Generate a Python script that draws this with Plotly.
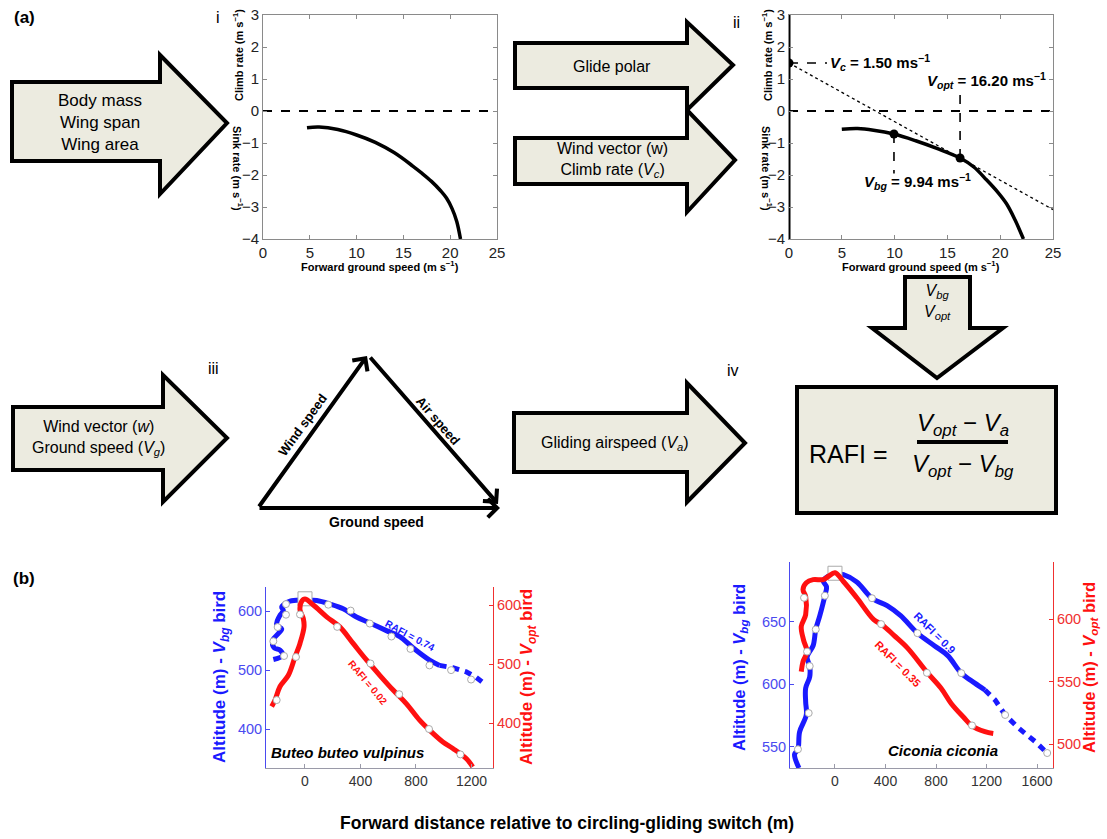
import plotly.graph_objects as go

W, H = 1107, 839
def P(x): return x / W
def Q(y): return 1 - y / H

FONT = "Liberation Sans, Arial, Helvetica, sans-serif"
BLUE = "#1a1aff"
RED = "#ff1010"
BEIGE = "#ecebe0"

# ---------------- panel i : glide polar ----------------
polar_i_speed = [4.7, 6, 8, 10, 12, 14, 16, 17, 18, 19, 19.6, 20.2, 20.7, 21.1]
polar_i_sink = [-0.52, -0.50, -0.58, -0.75, -0.98, -1.30, -1.72, -1.95, -2.2, -2.5, -2.72, -3.05, -3.45, -4.0]

# ---------------- panel ii : shifted polar ----------------
polar_ii_speed = [5.0, 6.5, 8, 9.94, 12, 14, 16.2, 17.5, 18.7, 19.8, 20.6, 21.4, 22.2]
polar_ii_sink = [-0.57, -0.55, -0.6, -0.72, -0.93, -1.17, -1.47, -1.75, -2.15, -2.55, -2.9, -3.4, -4.0]
tangent_x = [0, 25]
tangent_y = [1.5, -3.08]
key_x = [0, 9.94, 16.2]
key_y = [1.5, -0.72, -1.47]

# ---------------- panel b : Buteo buteo vulpinus ----------------
bb_blue_x = [-228, -160, -180, -223, -232, -192, -168, -204, -199, -180, -156, -168, -144, -108, -36, 0,
             84, 180, 275, 371, 467, 587, 683, 778, 898, 970]
bb_blue_y = [518, 525, 534, 538, 551, 562, 570, 576, 584, 593, 601, 607, 613, 617, 619, 619,
             618, 612, 604, 590, 580, 567, 557, 538, 517, 508]
bb_blue_dot_x = [970, 1066, 1162, 1233, 1305]
bb_blue_dot_y = [508, 504, 497, 488, 475]
bb_blue_mk_x = [-151, -228, -197, -137, -137, 168, 329, 467, 623, 760, 897, 1053, 1197]
bb_blue_mk_y = [524, 549, 573, 594, 612, 611, 601, 579, 557, 536, 508, 500, 484]
bb_red_x = [-240, -216, -180, -120, -72, -36, -7, -12, -36, -24, 0,
            60, 156, 251, 347, 443, 539, 635, 730, 826, 898, 994, 1066, 1162, 1209]
bb_red_y = [428, 439, 462, 481, 512, 535, 563, 577, 592, 606, 610,
            600, 580, 563, 535, 507, 481, 456, 433, 405, 388, 368, 357, 340, 326]
bb_red_mk_x = [-204, -65, -36, 232, 472, 679, 894, 1120]
bb_red_mk_y = [439, 512, 584, 563, 501, 449, 390, 347]

# ---------------- panel b : Ciconia ciconia ----------------
cc_blue_x = [-285, -320, -293, -280, -227, -232, -232, -200, -200, -221, -173, -152, -120, -80, -67, -93, -53, 0,
             67, 173, 293, 413, 520, 653, 787, 893, 1000, 1107, 1187]
cc_blue_y = [533, 544, 548, 562, 575.5, 586, 597, 606, 614.6, 622, 631, 644, 655, 671, 678, 683, 686.7, 688.6,
             687.8, 682, 669, 663, 655, 641, 631, 623, 609, 601, 595.5]
cc_blue_dot_x = [1187, 1267, 1347, 1453, 1587, 1680]
cc_blue_dot_y = [595.5, 587.5, 575.5, 565, 554, 545]
cc_blue_mk_x = [-293, -208, -200, -152, -80, 293, 653, 1000, 1347, 1680]
cc_blue_mk_y = [548, 577, 614.6, 644, 671, 669, 641, 609, 575.5, 545]
cc_red_x = [-267, -253, -221, -248, -267, -232, -232, -253, -227, -173, -93, -53, 0,
            67, 173, 307, 373, 467, 573, 733, 840, 920, 1027, 1080, 1187, 1253]
cc_red_y = [558, 566, 574, 583, 594, 603.5, 618, 623.5, 629, 631.5, 631.5, 634, 637,
            630, 617, 599.5, 595.5, 587, 577, 557, 544.7, 532.6, 520.6, 515, 510, 508.6]
cc_red_mk_x = [-221, -245, 365, 728, 1085]
cc_red_mk_y = [574, 617, 596, 557, 515]

fig = go.Figure()

# panel i traces
fig.add_trace(go.Scatter(x=[0, 25], y=[0, 0], mode="lines", line=dict(color="black", width=2, dash="dash"),
                         xaxis="x", yaxis="y", hoverinfo="skip"))
fig.add_trace(go.Scatter(x=polar_i_speed, y=polar_i_sink, mode="lines", line=dict(color="black", width=3.5, shape="spline"),
                         xaxis="x", yaxis="y"))

# panel ii traces
fig.add_trace(go.Scatter(x=[0, 0], y=[-4, 3], mode="lines", line=dict(color="black", width=3),
                         xaxis="x2", yaxis="y2", hoverinfo="skip"))
fig.add_trace(go.Scatter(x=[0, 25], y=[0, 0], mode="lines", line=dict(color="black", width=2, dash="dash"),
                         xaxis="x2", yaxis="y2", hoverinfo="skip"))
fig.add_trace(go.Scatter(x=tangent_x, y=tangent_y, mode="lines", line=dict(color="black", width=1.3, dash="dot"),
                         xaxis="x2", yaxis="y2"))
fig.add_trace(go.Scatter(x=[key_x[0], 3.6], y=[key_y[0], key_y[0]], mode="lines",
                         line=dict(color="black", width=1.6, dash="dash"), xaxis="x2", yaxis="y2"))
fig.add_trace(go.Scatter(x=[key_x[1], key_x[1]], y=[key_y[1], -1.95], mode="lines",
                         line=dict(color="black", width=1.6, dash="dash"), xaxis="x2", yaxis="y2"))
fig.add_trace(go.Scatter(x=[key_x[2], key_x[2]], y=[key_y[2], 0.5], mode="lines",
                         line=dict(color="black", width=1.6, dash="dash"), xaxis="x2", yaxis="y2"))
fig.add_trace(go.Scatter(x=polar_ii_speed, y=polar_ii_sink, mode="lines", line=dict(color="black", width=3.5, shape="spline"),
                         xaxis="x2", yaxis="y2"))
fig.add_trace(go.Scatter(x=key_x, y=key_y, mode="markers", marker=dict(color="black", size=9),
                         xaxis="x2", yaxis="y2"))

# panel b traces
def add_b(xb, yb, xbd, ybd, xbm, ybm, xr, yr, xrm, yrm, xa, ya_l, ya_r, top_y):
    fig.add_trace(go.Scatter(x=xb, y=yb, mode="lines", line=dict(color=BLUE, width=5, shape="spline"),
                             xaxis=xa, yaxis=ya_l))
    fig.add_trace(go.Scatter(x=xbd, y=ybd, mode="lines", line=dict(color=BLUE, width=5, dash="7px,6px"),
                             xaxis=xa, yaxis=ya_l))
    fig.add_trace(go.Scatter(x=xr, y=yr, mode="lines", line=dict(color=RED, width=5, shape="spline"),
                             xaxis=xa, yaxis=ya_r))
    fig.add_trace(go.Scatter(x=xbm, y=ybm, mode="markers",
                             marker=dict(color="white", size=7, line=dict(color="#aaaaaa", width=1)),
                             xaxis=xa, yaxis=ya_l))
    fig.add_trace(go.Scatter(x=xrm, y=yrm, mode="markers",
                             marker=dict(color="white", size=7, line=dict(color="#aaaaaa", width=1)),
                             xaxis=xa, yaxis=ya_r))
    fig.add_trace(go.Scatter(x=[0], y=[top_y], mode="markers",
                             marker=dict(color="white", size=14, symbol="square", line=dict(color="#aaaaaa", width=1)),
                             xaxis=xa, yaxis=ya_l))

add_b(bb_blue_x, bb_blue_y, bb_blue_dot_x, bb_blue_dot_y, bb_blue_mk_x, bb_blue_mk_y,
      bb_red_x, bb_red_y, bb_red_mk_x, bb_red_mk_y, "x3", "y3", "y4", 621)
add_b(cc_blue_x, cc_blue_y, cc_blue_dot_x, cc_blue_dot_y, cc_blue_mk_x, cc_blue_mk_y,
      cc_red_x, cc_red_y, cc_red_mk_x, cc_red_mk_y, "x4", "y5", "y6", 689)

# invisible trace to create the full-figure canvas subplot
fig.add_trace(go.Scatter(x=[0, W], y=[0, H], mode="markers", marker=dict(opacity=0),
                         xaxis="x5", yaxis="y7", hoverinfo="skip"))

# ---------------- axes ----------------
def a_axis(dom, rng, dtick):
    return dict(domain=dom, range=rng, showline=True, linecolor="#8a8a8a", linewidth=1, mirror="ticks",
                ticks="inside", ticklen=4, tickcolor="#8a8a8a", showgrid=False, zeroline=False,
                automargin=False, dtick=dtick, tickfont=dict(family=FONT, size=15, color="#222"))

layout_axes = dict(
    xaxis=dict(**a_axis([P(263), P(497)], [0, 25], 5), anchor="y"),
    yaxis=dict(**a_axis([Q(239), Q(15)], [-4, 3], 1), anchor="x"),
    xaxis2=dict(**a_axis([P(789), P(1053)], [0, 25], 5), anchor="y2"),
    yaxis2=dict(**a_axis([Q(239), Q(15)], [-4, 3], 1), anchor="x2"),
)

def b_x(dom, rng, tv):
    return dict(domain=dom, range=rng, tickvals=tv, showline=True, linecolor="#9a9aa8", linewidth=1,
                ticks="inside", ticklen=4, tickcolor="#9a9aa8", showgrid=False, zeroline=False, automargin=False,
                tickfont=dict(family=FONT, size=14, color="#333"))

def b_y(dom, rng, tv, color, side):
    return dict(domain=dom, range=rng, tickvals=tv, showline=True, linecolor=color, linewidth=1,
                ticks="inside", ticklen=4, tickcolor=color, showgrid=False, zeroline=False, side=side,
                automargin=False, tickfont=dict(family=FONT, size=14.5, color=color))

layout_axes.update(
    xaxis3=dict(**b_x([P(266), P(493)], [-281, 1355], [0, 400, 800, 1200]), anchor="y3"),
    yaxis3=dict(**b_y([Q(768), Q(587)], [334, 641], [400, 500, 600], "#4a4af0", "left"), anchor="x3"),
    yaxis4=dict(**b_y([Q(768), Q(587)], [324, 630.5], [400, 500, 600], "#f03030", "right"), anchor="x3",
                overlaying="y3"),
    xaxis4=dict(**b_x([P(790), P(1053)], [-356, 1726], [0, 400, 800, 1200, 1600]), anchor="y5"),
    yaxis5=dict(**b_y([Q(768), Q(562)], [533, 698], [550, 600, 650], "#4a4af0", "left"), anchor="x4"),
    yaxis6=dict(**b_y([Q(768), Q(562)], [481, 645.6], [500, 550, 600], "#f03030", "right"), anchor="x4",
                overlaying="y5"),
    xaxis5=dict(domain=[0, 1], range=[0, W], visible=False, fixedrange=True, automargin=False, anchor="y7"),
    yaxis7=dict(domain=[0, 1], range=[H, 0], visible=False, fixedrange=True, automargin=False, anchor="x5"),
)

# ---------------- shapes (diagram, canvas pixels) ----------------
CX, CY = "x5", "y7"
def right_arrow(x0, yt, yb, xh, ht, hb, tx, ty):
    pts = [(x0, yt), (xh, yt), (xh, ht), (tx, ty), (xh, hb), (xh, yb), (x0, yb)]
    return "M " + " L ".join(f"{a},{b}" for a, b in pts) + " Z"

shapes = []
arrow_style = dict(type="path", xref=CX, yref=CY, fillcolor=BEIGE, line=dict(color="black", width=4))
shapes.append(dict(path=right_arrow(12, 82, 161, 160, 55, 194, 227, 123), **arrow_style))
shapes.append(dict(path=right_arrow(515, 43, 88, 687, 22, 110, 733, 65), **arrow_style))
shapes.append(dict(path=right_arrow(515, 138, 184, 687, 110, 212, 735, 160), **arrow_style))
shapes.append(dict(path=right_arrow(13, 407, 470, 163, 375, 502, 227, 438), **arrow_style))
shapes.append(dict(path=right_arrow(514, 413, 472, 687, 383, 502, 745, 443), **arrow_style))
down_pts = [(905, 277), (970, 277), (970, 328), (1003, 328), (937, 378), (872, 328), (905, 328)]
shapes.append(dict(path="M " + " L ".join(f"{a},{b}" for a, b in down_pts) + " Z", **arrow_style))
shapes.append(dict(type="rect", xref=CX, yref=CY, x0=797, x1=1056, y0=387, y1=513,
                   fillcolor=BEIGE, line=dict(color="black", width=4)))
shapes.append(dict(type="line", xref=CX, yref=CY, x0=917, x1=1008, y0=442, y1=442,
                   line=dict(color="black", width=4)))

# ---------------- annotations ----------------
ann = []
def T(x, y, text, size=16, color="black", angle=0, xa="center", ya="middle", bold=False, italic=False):
    if italic:
        text = f"<i>{text}</i>"
    if bold:
        text = f"<b>{text}</b>"
    ann.append(dict(x=x, y=y, xref=CX, yref=CY, text=text, showarrow=False,
                    font=dict(family=FONT, size=size, color=color), textangle=angle,
                    xanchor=xa, yanchor=ya))

T(24, 17, "(a)", 17, bold=True)
T(24, 578, "(b)", 17, bold=True)
T(218, 17, "i", 16)
T(736, 22, "ii", 16)
T(213, 368, "iii", 16)
T(733, 370, "iv", 16)

T(100, 122, "Body mass<br>Wing span<br>Wing area", 17)
T(612, 66, "Glide polar", 16)
T(612, 160, "Wind vector (w)<br>Climb rate (<i>V</i><sub><i>c</i></sub>)", 16)
T(98, 438, "Wind vector (<i>w</i>)<br>Ground speed (<i>V</i><sub><i>g</i></sub>)", 16)
T(615, 443, "Gliding airspeed (<i>V</i><sub><i>a</i></sub>)", 16)
T(937, 302, "<i>V</i><sub><i>bg</i></sub><br><i>V</i><sub><i>opt</i></sub>", 16)
T(848, 454, "RAFI =", 25)
T(963, 424, "<i>V</i><sub><i>opt</i></sub> − <i>V</i><sub><i>a</i></sub>", 24)
T(963, 465, "<i>V</i><sub><i>opt</i></sub> − <i>V</i><sub><i>bg</i></sub>", 24)

# panel i / ii axis texts
for cx, xt in [(238, 380), (767, 921)]:
    T(cx, 55, "Climb rate (m s<sup>−1</sup>)", 11, angle=-90, bold=True)
    T(cx, 168, "Sink rate (m s<sup>−1</sup>)", 11, angle=90, bold=True)
    T(xt, 266, "Forward ground speed (m s<sup>−1</sup>)", 11, bold=True)

# panel ii value labels (data coords)
def TD(x, y, xr, yr, text, size, xa="left"):
    ann.append(dict(x=x, y=y, xref=xr, yref=yr, text=text, showarrow=False, xanchor=xa, yanchor="middle",
                    font=dict(family=FONT, size=size, color="black")))
TD(3.7, 1.5, "x2", "y2", "<b><i>V</i><sub><i>c</i></sub> = 1.50 ms<sup>−1</sup></b>", 15)
TD(12.9, 0.95, "x2", "y2", "<b><i>V</i><sub><i>opt</i></sub> = 16.20 ms<sup>−1</sup></b>", 15)
TD(6.9, -2.2, "x2", "y2", "<b><i>V</i><sub><i>bg</i></sub> = 9.94 ms<sup>−1</sup></b>", 15)

# triangle (vectors)
def arrow(x0, y0, x1, y1):
    ann.append(dict(x=x1, y=y1, xref=CX, yref=CY, ax=x0 - x1, ay=y0 - y1,
                    axref="pixel", ayref="pixel", showarrow=True, arrowhead=4, arrowwidth=4,
                    arrowsize=0.9, arrowcolor="black", text="", standoff=0, startstandoff=0))
arrow(258, 508, 367, 356)
arrow(369, 356, 498, 504)
arrow(258, 508, 500, 508)
T(302, 425, "Wind speed", 13, angle=-54, bold=True)
T(438, 420, "Air speed", 13, angle=49, bold=True)
T(376, 522, "Ground speed", 14, bold=True)

# panel b texts
T(221, 677, "Altitude (m) - <i>V</i><sub><i>bg</i></sub> bird", 17, color=BLUE, angle=-90, bold=True)
T(528, 677, "Altitude (m) - <i>V</i><sub><i>opt</i></sub> bird", 17, color=RED, angle=-90, bold=True)
T(740, 668, "Altitude (m) - <i>V</i><sub><i>bg</i></sub> bird", 16.5, color=BLUE, angle=-90, bold=True)
T(1090, 668, "Altitude (m) - <i>V</i><sub><i>opt</i></sub> bird", 16.5, color=RED, angle=-90, bold=True)
T(410, 635, "RAFI = 0.74", 10, color=BLUE, angle=28, bold=True)
T(368, 682, "RAFI = 0.02", 10, color=RED, angle=50, bold=True)
T(935, 633, "RAFI = 0.9", 11, color=BLUE, angle=45, bold=True)
T(898, 664, "RAFI = 0.35", 11, color=RED, angle=45, bold=True)
T(347, 752, "Buteo buteo vulpinus", 15, bold=True, italic=True)
T(943, 750, "Ciconia ciconia", 15, bold=True, italic=True)
T(567, 823, "Forward distance relative to circling-gliding switch (m)", 17.5, bold=True)

fig.update_layout(width=W, height=H, margin=dict(l=0, r=0, t=0, b=0, pad=0, autoexpand=False), showlegend=False,
                  paper_bgcolor="white", plot_bgcolor="rgba(0,0,0,0)",
                  font=dict(family=FONT), shapes=shapes, annotations=ann, **layout_axes)
fig.write_html("out.html", config={"displayModeBar": False},
               post_script="document.body.style.margin='0px';document.body.style.overflow='hidden';")
